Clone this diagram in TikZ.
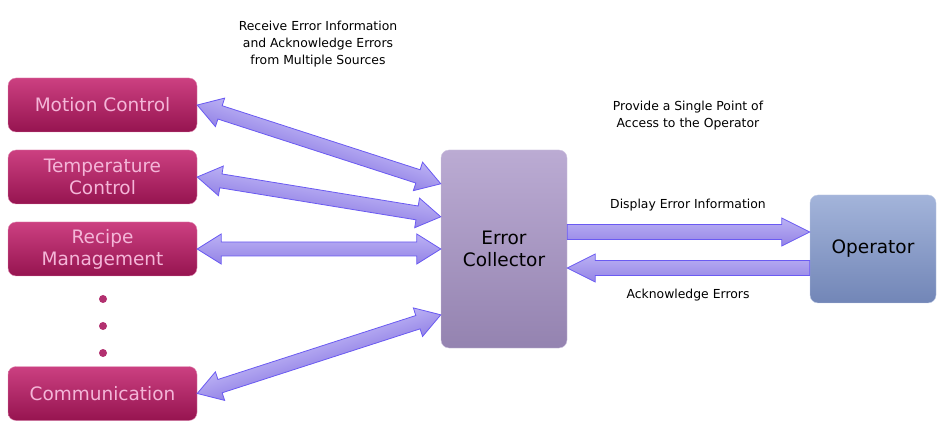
\documentclass[tikz,border=0pt]{standalone}
\usepackage{fontspec}
\setmainfont{DejaVu Sans}
\usetikzlibrary{calc}

\definecolor{srctop}{HTML}{CC4081}
\definecolor{srcbot}{HTML}{961450}
\definecolor{srctext}{HTML}{F4B6D8}
\definecolor{hubtop}{HTML}{BBABD3}
\definecolor{hubbot}{HTML}{9483B0}
\definecolor{optop}{HTML}{A3B4DA}
\definecolor{opbot}{HTML}{7286B7}
\definecolor{arrtop}{HTML}{BBB1F4}
\definecolor{arrbot}{HTML}{9484E6}
\definecolor{arrline}{HTML}{6A5AF2}
\definecolor{dotpink}{HTML}{B2306F}

\tikzset{
  srcbox/.style={rounded corners=8pt, minimum width=189pt, minimum height=54pt,
    top color=srctop, bottom color=srcbot, draw=srctop!60!white, thin,
    text=srctext, align=center, font=\fontsize{18.5}{22}\selectfont},
  hubbox/.style={rounded corners=8pt, minimum width=126pt, minimum height=198pt,
    top color=hubtop, bottom color=hubbot, draw=hubtop!70!white, thin,
    align=center, font=\fontsize{18.5}{22}\selectfont},
  opbox/.style={rounded corners=8pt, minimum width=126pt, minimum height=108pt,
    top color=optop, bottom color=opbot, draw=optop!70!white, thin,
    align=center, font=\fontsize{18.5}{22}\selectfont},
  note/.style={align=center, font=\fontsize{12.4}{17}\selectfont},
  fatarrow/.style={top color=arrtop, bottom color=arrbot, draw=arrline, line width=0.8pt, line join=miter},
  dotmark/.style={circle, fill=dotpink, inner sep=0pt, minimum size=8pt}
}

% double headed fat arrow between two points
\newcommand{\twoway}[2]{%
  \path let \p1=(#1), \p2=(#2), \n1={atan2(\y2-\y1,\x2-\x1)}, \n2={veclen(\x2-\x1,\y2-\y1)}
    in \pgfextra{\xdef\arrang{\n1}\xdef\arrlen{\n2}};
  \begin{scope}[transform canvas={shift={(#1)}, rotate=\arrang}]
    \path[fatarrow] (0,0) -- (24,15) -- (24,7) -- (\arrlen-24,7) -- (\arrlen-24,15)
      -- (\arrlen,0) -- (\arrlen-24,-15) -- (\arrlen-24,-7) -- (24,-7) -- (24,-15) -- cycle;
  \end{scope}}
% single headed fat arrow, tip at #2
\newcommand{\oneway}[2]{%
  \path[fatarrow] ($(#1)!7.5pt!90:(#2)$)
    -- ($(#2)!28pt!(#1)!7.5pt!-90:(#1)$) -- ($(#2)!28pt!(#1)!14pt!-90:(#1)$)
    -- (#2)
    -- ($(#2)!28pt!(#1)!14pt!90:(#1)$) -- ($(#2)!28pt!(#1)!7.5pt!90:(#1)$)
    -- ($(#1)!7.5pt!-90:(#2)$) -- cycle;}

\begin{document}
\begin{tikzpicture}[x=1pt, y=1pt]
    \useasboundingbox (0,0) rectangle (945,-430);
    % sources
    \node [srcbox] (motion) at (102.5,-105) {Motion Control};
    \node [srcbox] (temp) at (102.5,-177) {Temperature\\Control};
    \node [srcbox] (recipe) at (102.5,-249) {Recipe\\Management};
    \node [srcbox] (comm) at (102.5,-393.5) {Communication};
    \node [dotmark] (d1) at (103,-299) {};
    \node [dotmark] (d2) at (103,-326) {};
    \node [dotmark] (d3) at (103,-353) {};
    % collector and operator
    \node [hubbox] (coll) at (504,-249) {Error\\Collector};
    \node [opbox] (oper) at (873,-249) {Operator};
    \coordinate (in1) at ($(coll.north west)+(0,-34)$);
    \coordinate (in2) at ($(coll.north west)+(0,-67)$);
    \coordinate (in4) at ($(coll.north west)+(0,-165)$);
    \coordinate (outa) at ($(coll.east)+(0,17)$);
    \coordinate (outb) at ($(coll.east)+(0,-19)$);
    \coordinate (opa) at ($(oper.west)+(0,17)$);
    \coordinate (opb) at ($(oper.west)+(0,-19)$);
    % arrows
    \twoway{motion.east}{in1}
    \twoway{temp.east}{in2}
    \twoway{recipe.east}{coll.west}
    \twoway{comm.east}{in4}
    \oneway{outa}{opa}
    \oneway{opb}{outb}
    % labels
    \node [note] (recv) at (318,-44) {Receive Error Information\\and Acknowledge Errors\\from Multiple Sources};
    \node [note] (single) at (688,-116) {Provide a Single Point of\\Access to the Operator};
    \node [note] (disp) at (688,-205) {Display Error Information};
    \node [note] (ack) at (688,-295) {Acknowledge Errors};
\end{tikzpicture}
\end{document}
